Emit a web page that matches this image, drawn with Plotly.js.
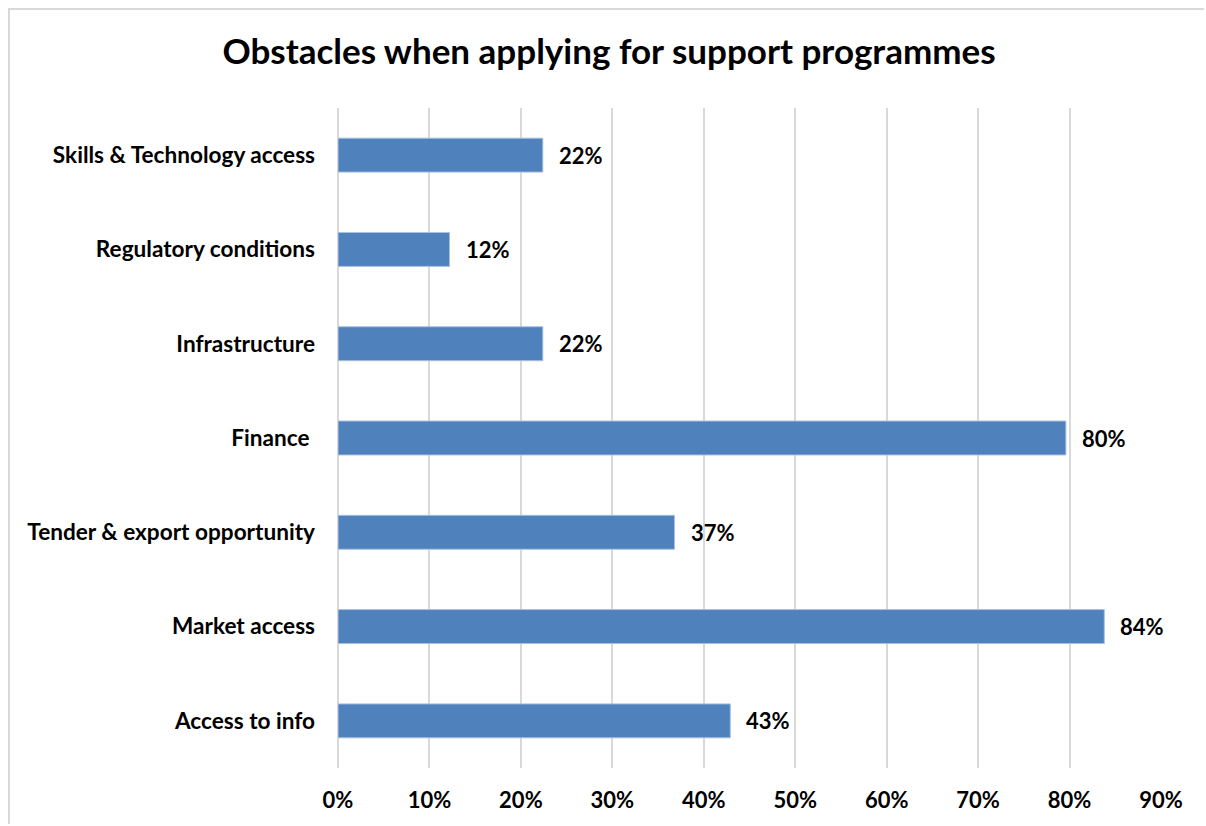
<!DOCTYPE html>
<html>
<head>
<meta charset="utf-8">
<script src="https://cdn.plot.ly/plotly-3.0.1.min.js"></script>
<style>
html,body{margin:0;padding:0;background:#fff;overflow:hidden;width:1206px;height:826px;}
#chart{width:1206px;height:826px;position:absolute;left:0;top:0;}
#frame{position:absolute;left:8px;top:8px;width:1196px;height:816px;border-left:2px solid #d9d9d9;border-top:2px solid #d9d9d9;pointer-events:none;box-sizing:border-box;}
</style>
</head>
<body>
<div id="chart"></div>
<div id="frame"></div>
<script>
const categories = ["Skills & Technology access", "Regulatory conditions", "Infrastructure", "Finance\u00a0", "Tender & export opportunity", "Market access", "Access to info"];
const values = [0.224, 0.122, 0.224, 0.796, 0.368, 0.838, 0.429];
const tickVals = [0, 0.1, 0.2, 0.3, 0.4, 0.5, 0.6, 0.7, 0.8, 0.9];
const tickText = ["0%", "10%", "20%", "30%", "40%", "50%", "60%", "70%", "80%", "90%"];
const titleText = "Obstacles when applying for support programmes";

const FONT = "Lato, 'Open Sans', sans-serif";

const trace = {
  type: "bar",
  orientation: "h",
  y: categories,
  x: values,
  marker: {color: "#4f81bd", line: {color: "#a9c1e0", width: 1}},
  width: 0.36,
  hoverinfo: "none"
};

const annotations = categories.map((c, i) => ({
  x: values[i], y: c, xref: "x", yref: "y",
  text: "<b>" + Math.round(values[i] * 100) + "%</b>",
  showarrow: false, xanchor: "left", yanchor: "middle", xshift: 14,
  font: {family: FONT, size: 22, color: "#000"}
}));

const layout = {
  width: 1206, height: 826,
  margin: {l: 338, r: 45, t: 108, b: 58},
  paper_bgcolor: "#fff", plot_bgcolor: "#fff",
  title: {text: "<b>" + titleText + "</b>", x: 0.505, xanchor: "center", y: 0.937, yanchor: "middle",
          font: {family: FONT, size: 35, color: "#000"}},
  xaxis: {range: [0, 0.9], tickvals: tickVals, ticktext: tickText, showgrid: true,
          gridcolor: "#d9d9d9", gridwidth: 2, zeroline: true, zerolinecolor: "#d9d9d9", zerolinewidth: 2,
          showline: false, ticks: "", ticklabelstandoff: 17,
          tickfont: {family: FONT, size: 22, color: "#000", weight: "bold"}},
  yaxis: {autorange: "reversed", showgrid: false, zeroline: false, showline: false, ticks: "",
          ticklabelstandoff: 22,
          tickfont: {family: FONT, size: 22.6, color: "#000", weight: "bold"}},
  annotations: annotations,
  showlegend: false
};

Plotly.newPlot("chart", [trace], layout, {staticPlot: true, displayModeBar: false});
</script>
</body>
</html>
